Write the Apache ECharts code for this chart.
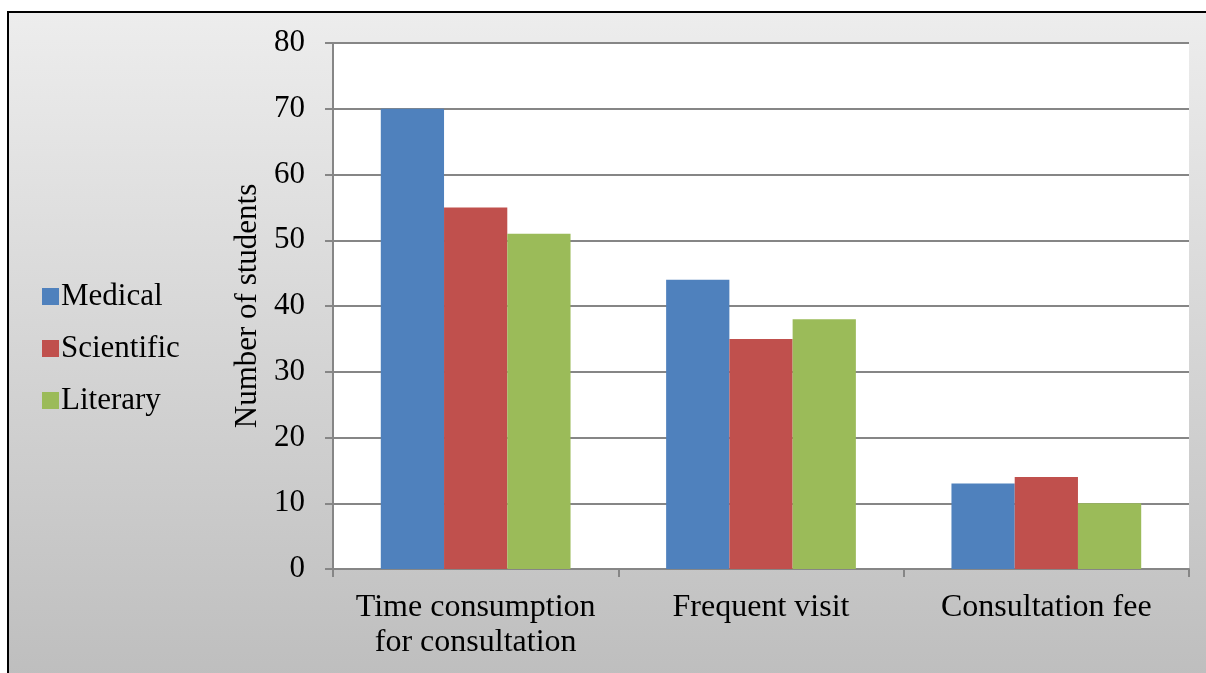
<!DOCTYPE html>
<html>
<head>
<meta charset="utf-8">
<script src="https://cdn.jsdelivr.net/npm/echarts@6/dist/echarts.min.js"></script>
<style>
  html, body { margin: 0; padding: 0; background: #ffffff; }
  #chart { width: 1206px; height: 673px; }
</style>
</head>
<body>
<div id="chart"></div>
<script>
// Reasons reported by students, grouped by faculty
const categories = ['Time consumption\nfor consultation', 'Frequent visit', 'Consultation fee'];
const medical = [70, 44, 13];
const scientific = [55, 35, 14];
const literary = [51, 38, 10];
const yTicks = { min: 0, max: 80, interval: 10 };

const FONT = '"Liberation Serif", "DejaVu Serif", serif';
const GRID_COLOR = '#868686';

const chart = echarts.init(document.getElementById('chart'), null, { renderer: 'canvas' });

function barSeries(name, data, color) {
  return {
    name: name,
    type: 'bar',
    data: data,
    barGap: '0%',
    barCategoryGap: '33.5%',
    itemStyle: { color: color },
    emphasis: { disabled: true }
  };
}

chart.setOption({
  animation: false,
  backgroundColor: '#ffffff',
  graphic: [
    {
      // framed panel with a soft vertical shade
      type: 'rect',
      z: -10,
      silent: true,
      shape: { x: 8, y: 12, width: 1210, height: 680 },
      style: {
        fill: new echarts.graphic.LinearGradient(0, 0, 0, 1, [
          { offset: 0, color: '#ededed' },
          { offset: 1, color: '#bdbdbd' }
        ]),
        stroke: '#000000',
        lineWidth: 2
      }
    }
  ],
  legend: {
    orient: 'vertical',
    left: 37,
    top: 276,
    itemWidth: 17,
    itemHeight: 17,
    itemGap: 21,
    icon: 'rect',
    textStyle: { fontFamily: FONT, fontSize: 31, color: '#000000', padding: [0, 0, 0, -3] },
    data: ['Medical', 'Scientific', 'Literary']
  },
  grid: {
    left: 333,
    right: 17,
    top: 43,
    bottom: 104,
    show: true,
    backgroundColor: '#ffffff',
    borderWidth: 0
  },
  xAxis: {
    type: 'category',
    data: categories,
    axisLine: { lineStyle: { color: GRID_COLOR, width: 2 } },
    axisTick: { show: true, length: 8, lineStyle: { color: GRID_COLOR, width: 2 } },
    axisLabel: {
      fontFamily: FONT,
      fontSize: 32,
      color: '#000000',
      margin: 21,
      lineHeight: 35,
      interval: 0
    }
  },
  yAxis: {
    type: 'value',
    min: yTicks.min,
    max: yTicks.max,
    interval: yTicks.interval,
    name: 'Number of students',
    nameLocation: 'middle',
    nameGap: 70,
    nameRotate: 90,
    nameTextStyle: { fontFamily: FONT, fontSize: 31, color: '#000000' },
    axisLine: { show: true, lineStyle: { color: GRID_COLOR, width: 2 } },
    axisTick: { show: true, length: 8, lineStyle: { color: GRID_COLOR, width: 2 } },
    axisLabel: { fontFamily: FONT, fontSize: 31, color: '#000000', margin: 28 },
    splitLine: { show: true, lineStyle: { color: GRID_COLOR, width: 2 } }
  },
  series: [
    barSeries('Medical', medical, '#4f81bd'),
    barSeries('Scientific', scientific, '#c0504d'),
    barSeries('Literary', literary, '#9bbb59')
  ]
});
</script>
</body>
</html>
